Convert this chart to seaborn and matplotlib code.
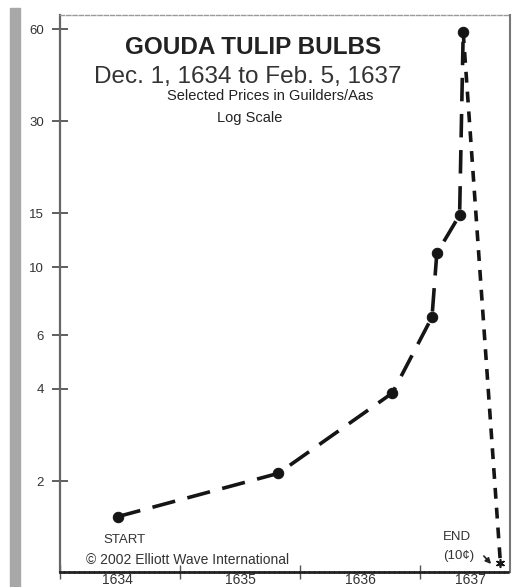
import matplotlib
matplotlib.use('Agg')
import matplotlib.pyplot as plt
from matplotlib.patches import Rectangle
from matplotlib.ticker import NullLocator, FixedLocator
import pandas as pd
import seaborn as sns

sns.set_style('white')
plt.rcParams['font.family'] = ['Liberation Sans', 'DejaVu Sans']

# Price path (chart-year position, guilders/aas)
rise_years = [1634.48, 1635.82, 1636.77, 1637.10, 1637.14, 1637.33, 1637.36]
rise_prices = [1.53, 2.12, 3.88, 6.87, 11.1, 14.8, 58.6]
fall_years = [1637.36, 1637.67]
fall_prices = [58.6, 1.08]

y_ticks = [2, 4, 6, 10, 15, 30, 60]
year_bounds = [1634, 1635, 1636, 1637]
year_label_pos = [1634.48, 1635.5, 1636.5, 1637.42]
year_labels = ['1634', '1635', '1636', '1637']

W, H = 525, 587


def px(x, y):
    # figure pixel (from top-left) -> figure fraction
    return x / W, 1 - y / H


fig = plt.figure(figsize=(W / 100, H / 100), dpi=100)
ax = fig.add_axes([60 / W, 15 / H, 450 / W, 557 / H])

rise = pd.DataFrame({'year': rise_years, 'price': rise_prices})
fall = pd.DataFrame({'year': fall_years, 'price': fall_prices})

sns.lineplot(data=rise, x='year', y='price', ax=ax, color='#151515',
             linewidth=2.6, linestyle=(0, (6.5, 3.5)), marker='o',
             markersize=7.5, markeredgecolor='#151515', sort=False)
sns.lineplot(data=fall, x='year', y='price', ax=ax, color='#151515',
             linewidth=2.6, linestyle=(0, (3, 2.5)), sort=False)
sns.scatterplot(x=fall_years[-1:], y=fall_prices[-1:], ax=ax,
                marker=(6, 2, 0), s=30, color='#151515', linewidth=1.2)

ax.set_yscale('log')
ax.set_ylim(1.009, 66.7)
ax.set_xlim(1634, 1637.75)

ax.yaxis.set_major_locator(FixedLocator(y_ticks))
ax.set_yticklabels([str(t) for t in y_ticks])
ax.yaxis.set_minor_locator(NullLocator())
ax.tick_params(axis='y', which='major', direction='inout', length=11,
               width=1.2, color='#444444', labelsize=9.5,
               labelcolor='#333333', pad=6, left=True)

ax.set_xticks(year_bounds)
ax.set_xticklabels([])
ax.set_xticks(year_label_pos, minor=True)
ax.set_xticklabels(year_labels, minor=True)
ax.tick_params(axis='x', which='major', direction='inout', length=10,
               width=1, color='#555555', bottom=True)
ax.tick_params(axis='x', which='minor', length=0, labelsize=10,
               labelcolor='#333333', pad=1)

ax.set_xlabel('')
ax.set_ylabel('')

ax.spines['left'].set_color('#666666')
ax.spines['left'].set_linewidth(1.6)
ax.spines['right'].set_color('#777777')
ax.spines['right'].set_linewidth(1.5)
ax.spines['top'].set_color('#999999')
ax.spines['top'].set_linewidth(1)
ax.spines['top'].set_linestyle((0, (3, 1.5)))
ax.spines['bottom'].set_color('#222222')
ax.spines['bottom'].set_linewidth(2)
ax.spines['bottom'].set_linestyle((0, (1, 0.8)))

# grey bar down the left edge
fig.add_artist(Rectangle((10 / W, 0), 10 / W, (H - 8) / H,
                         transform=fig.transFigure, color='#a8a8a8',
                         zorder=0))

fig.text(*px(253, 48), 'GOUDA TULIP BULBS', ha='center', va='center',
         fontsize=17.5, fontweight='bold', color='#222222')
fig.text(*px(248, 77), 'Dec. 1, 1634 to Feb. 5, 1637', ha='center',
         va='center', fontsize=17.5, color='#333333')
fig.text(*px(270, 96), 'Selected Prices in Guilders/Aas', ha='center',
         va='center', fontsize=10.5, color='#222222')
fig.text(*px(250, 118), 'Log Scale', ha='center', va='center',
         fontsize=10.5, color='#222222')

fig.text(*px(124, 540), 'START', ha='center', va='center', fontsize=9.5,
         color='#333333')
fig.text(*px(188, 560), '\u00a9 2002 Elliott Wave International',
         ha='center', va='center', fontsize=10, color='#333333')
fig.text(*px(457, 537), 'END', ha='center', va='center', fontsize=9.5,
         color='#333333')
fig.text(*px(459, 556), '(10\u00a2)', ha='center', va='center',
         fontsize=9.5, color='#333333')
ax.annotate('', xy=px(493, 566), xytext=px(482, 554),
            xycoords='figure fraction', textcoords='figure fraction',
            arrowprops=dict(arrowstyle='-|>', color='#222222', lw=1.2,
                            mutation_scale=8))

fig.savefig('out.png', dpi=100)
